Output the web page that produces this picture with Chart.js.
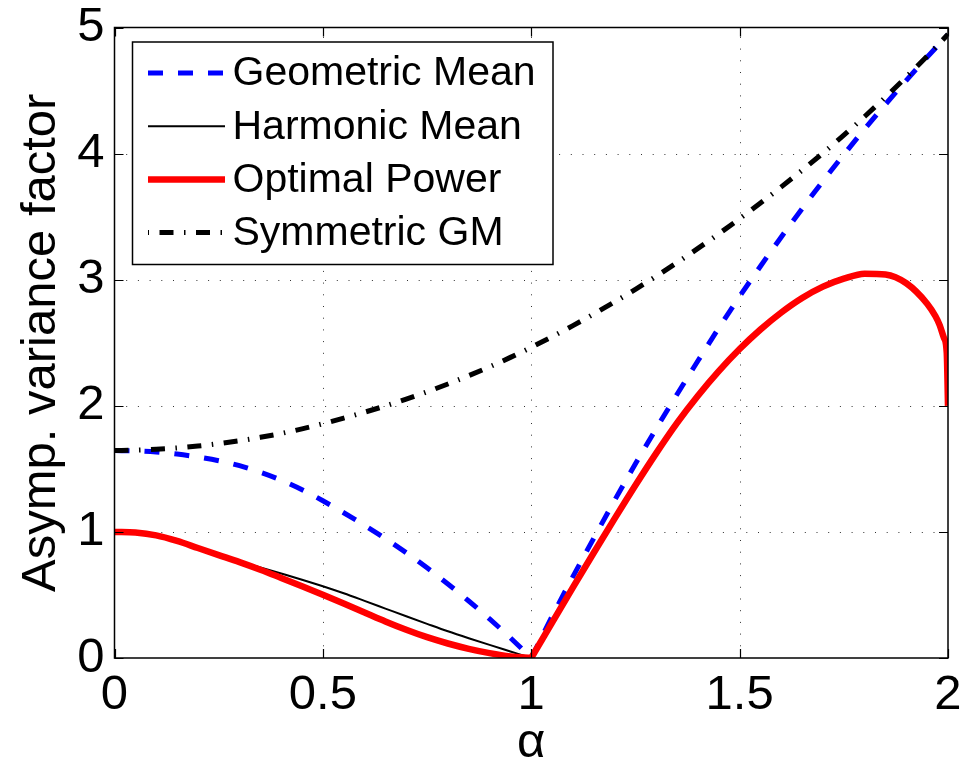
<!DOCTYPE html>
<html>
<head>
<meta charset="utf-8">
<script src="https://cdn.jsdelivr.net/npm/chart.js@4/dist/chart.umd.min.js"></script>
<style>
  html, body { margin: 0; padding: 0; background: #fff; }
  #wrap { width: 964px; height: 763px; }
</style>
</head>
<body>
<div id="wrap"><canvas id="chart" width="964" height="763"></canvas></div>
<script>
// α grid shared by the smooth curves
const alpha = [0, 0.05, 0.1, 0.15, 0.2, 0.25, 0.3, 0.35, 0.4, 0.45, 0.5,
               0.55, 0.6, 0.65, 0.7, 0.75, 0.8, 0.85, 0.9, 0.95, 1.0,
               1.05, 1.1, 1.15, 1.2, 1.25, 1.3, 1.35, 1.4, 1.45, 1.5,
               1.55, 1.6, 1.65, 1.7, 1.75, 1.8, 1.85, 1.9, 1.95, 2.0];

const geometricMean = [1.645, 1.642, 1.633, 1.617, 1.594, 1.564, 1.525, 1.473, 1.410, 1.335, 1.247,
                       1.152, 1.052, 0.947, 0.835, 0.715, 0.587, 0.452, 0.310, 0.160, 0.000,
                       0.330, 0.645, 0.950, 1.250, 1.540, 1.820, 2.092, 2.357, 2.617, 2.867,
                       3.107, 3.339, 3.564, 3.782, 3.992, 4.195, 4.391, 4.581, 4.765, 4.943];

// harmonic mean is only shown on α ∈ [0, 1]
const harmonicMean = [1.000, 0.994, 0.968, 0.924, 0.872, 0.818, 0.765, 0.718, 0.670, 0.621, 0.569,
                      0.513, 0.453, 0.392, 0.331, 0.271, 0.212, 0.157, 0.104, 0.052, 0.000];

// optimal power uses a finer grid close to α = 2
const alphaOpt = [0, 0.05, 0.1, 0.15, 0.2, 0.25, 0.3, 0.35, 0.4, 0.45, 0.5,
                  0.55, 0.6, 0.65, 0.7, 0.75, 0.8, 0.85, 0.9, 0.95, 1.0,
                  1.05, 1.1, 1.15, 1.2, 1.25, 1.3, 1.35, 1.4, 1.45, 1.5,
                  1.55, 1.6, 1.65, 1.7, 1.75, 1.8, 1.85, 1.9, 1.95,
                  1.97, 1.98, 1.99, 1.997, 2.0];
const optimalPower = [1.000, 0.995, 0.972, 0.928, 0.872, 0.816, 0.760, 0.700, 0.635, 0.569, 0.501,
                      0.432, 0.361, 0.290, 0.224, 0.165, 0.115, 0.073, 0.039, 0.013, 0.000,
                      0.280, 0.560, 0.835, 1.105, 1.370, 1.625, 1.865, 2.080, 2.275, 2.450,
                      2.605, 2.740, 2.855, 2.945, 3.008, 3.048, 3.042, 2.972, 2.810,
                      2.710, 2.640, 2.540, 2.420, 2.000];

const symmetricGM = [1.645, 1.648, 1.655, 1.666, 1.681, 1.700, 1.723, 1.750, 1.781, 1.817, 1.858,
                     1.902, 1.949, 1.999, 2.053, 2.111, 2.173, 2.239, 2.309, 2.384, 2.464,
                     2.548, 2.636, 2.728, 2.824, 2.924, 3.028, 3.136, 3.248, 3.364, 3.484,
                     3.608, 3.736, 3.868, 4.004, 4.146, 4.294, 4.448, 4.608, 4.774, 4.946];

const xTicks = [0, 0.5, 1, 1.5, 2];
const yTicks = [0, 1, 2, 3, 4, 5];

const FONT = "'Liberation Sans', Arial, Helvetica, sans-serif";

const pts = (xs, ys) => ys.map((v, i) => ({ x: xs[i], y: v }));
// curves with a kink at α = 1 are drawn as two branches
const leftOf = (xs, ys) => pts(xs, ys).filter(p => p.x <= 1);
const rightOf = (xs, ys) => pts(xs, ys).filter(p => p.x >= 1);

const styleGM  = { borderColor: '#0000ff', borderWidth: 5, borderDash: [15, 15], borderCapStyle: 'butt' };
const styleHM  = { borderColor: '#000000', borderWidth: 2, borderDash: [] };
const styleOP  = { borderColor: '#ff0000', borderWidth: 6.5, borderDash: [], borderJoinStyle: 'round' };
const styleSGM = { borderColor: '#000000', borderWidth: 5, borderDash: [14, 10.5, 1.5, 10.5], borderCapStyle: 'butt' };

const datasets = [
  { label: 'Geometric Mean', data: leftOf(alpha, geometricMean), order: 4, ...styleGM },
  { label: 'Geometric Mean', data: rightOf(alpha, geometricMean), order: 4, hideInKey: true, ...styleGM },
  { label: 'Harmonic Mean', data: pts(alpha, harmonicMean), order: 3, ...styleHM },
  { label: 'Optimal Power', data: leftOf(alphaOpt, optimalPower), order: 2, ...styleOP },
  { label: 'Optimal Power', data: rightOf(alphaOpt, optimalPower), order: 2, hideInKey: true, ...styleOP },
  { label: 'Symmetric GM', data: pts(alpha, symmetricGM), order: 1, ...styleSGM }
];

// dotted grid, boxed axes with inward ticks, and the in-plot key
const axesBox = {
  id: 'axesBox',
  beforeDatasetsDraw(chart) {
    const { ctx, chartArea: a, scales: { x, y } } = chart;
    ctx.save();
    ctx.strokeStyle = '#333';
    ctx.lineWidth = 1;
    ctx.setLineDash([1, 10.7]);
    xTicks.forEach(v => {
      if (v <= x.min || v >= x.max) return;
      const px = Math.round(x.getPixelForValue(v)) + 0.5;
      ctx.beginPath(); ctx.moveTo(px, a.bottom); ctx.lineTo(px, a.top); ctx.stroke();
    });
    yTicks.forEach(v => {
      if (v <= y.min || v >= y.max) return;
      const py = Math.round(y.getPixelForValue(v)) + 0.5;
      ctx.beginPath(); ctx.moveTo(a.left, py); ctx.lineTo(a.right, py); ctx.stroke();
    });
    ctx.restore();
  },
  afterDatasetsDraw(chart) {
    const { ctx, chartArea: a, scales: { x, y } } = chart;
    const tl = 9;
    ctx.save();
    ctx.strokeStyle = '#000';
    ctx.lineWidth = 1.5;
    ctx.setLineDash([]);
    ctx.strokeRect(a.left, a.top, a.right - a.left, a.bottom - a.top);
    ctx.lineWidth = 1.2;
    xTicks.forEach(v => {
      const px = Math.round(x.getPixelForValue(v)) + 0.5;
      ctx.beginPath();
      ctx.moveTo(px, a.bottom); ctx.lineTo(px, a.bottom - tl);
      ctx.moveTo(px, a.top); ctx.lineTo(px, a.top + tl);
      ctx.stroke();
    });
    yTicks.forEach(v => {
      const py = Math.round(y.getPixelForValue(v)) + 0.5;
      ctx.beginPath();
      ctx.moveTo(a.left, py); ctx.lineTo(a.left + tl, py);
      ctx.moveTo(a.right, py); ctx.lineTo(a.right - tl, py);
      ctx.stroke();
    });
    ctx.restore();
  },
  afterDraw(chart) {
    const { ctx, chartArea: a } = chart;
    const entries = chart.data.datasets.filter(d => !d.hideInKey);
    const bx = a.left + 18, by = a.top + 14.5, bw = 420.5, bh = 222.5;
    ctx.save();
    ctx.fillStyle = '#fff';
    ctx.fillRect(bx, by, bw, bh);
    ctx.strokeStyle = '#000';
    ctx.lineWidth = 1.5;
    ctx.setLineDash([]);
    ctx.strokeRect(bx, by, bw, bh);
    ctx.font = `41px ${FONT}`;
    ctx.textBaseline = 'middle';
    ctx.textAlign = 'left';
    entries.forEach((d, i) => {
      const ry = by + 31 + i * 53.2;
      ctx.save();
      ctx.strokeStyle = d.borderColor;
      ctx.lineWidth = d.borderWidth;
      ctx.lineCap = 'butt';
      ctx.setLineDash(d.borderDash || []);
      if (d.borderDash && d.borderDash.length === 4) ctx.lineDashOffset = 25;
      ctx.beginPath();
      ctx.moveTo(bx + 15.5, ry);
      ctx.lineTo(bx + 92.5, ry);
      ctx.stroke();
      ctx.restore();
      ctx.fillStyle = '#000';
      ctx.fillText(d.label, bx + 100, ry + 1);
    });
    ctx.restore();
  }
};

new Chart(document.getElementById('chart'), {
  type: 'line',
  data: { datasets },
  plugins: [axesBox],
  options: {
    responsive: false,
    animation: false,
    devicePixelRatio: 1,
    layout: { padding: { top: 27.5, right: 16, left: 0, bottom: 0 } },
    elements: {
      point: { radius: 0, hoverRadius: 0 },
      line: { cubicInterpolationMode: 'monotone', fill: false }
    },
    plugins: {
      legend: { display: false },
      tooltip: { enabled: false }
    },
    scales: {
      x: {
        type: 'linear', min: 0, max: 2,
        grid: { display: false, drawTicks: false },
        border: { display: false },
        afterBuildTicks: s => { s.ticks = xTicks.map(v => ({ value: v })); },
        ticks: { color: '#000', font: { family: FONT, size: 49, lineHeight: 1 }, padding: 13, maxRotation: 0, autoSkip: false,
                 callback: v => String(v) },
        title: { display: true, text: 'α', color: '#000', font: { family: FONT, size: 49, lineHeight: 0.8 }, padding: 0 },
        afterFit: s => { s.height = 105; s.paddingLeft = 0; s.paddingRight = 0; }
      },
      y: {
        type: 'linear', min: 0, max: 5,
        grid: { display: false, drawTicks: false },
        border: { display: false },
        afterBuildTicks: s => { s.ticks = yTicks.map(v => ({ value: v })); },
        ticks: { color: '#000', font: { family: FONT, size: 49, lineHeight: 1 }, padding: 10, autoSkip: false,
                 callback: v => String(v) },
        title: { display: true, text: 'Asymp. variance factor', color: '#000', font: { family: FONT, size: 49, lineHeight: 1 }, padding: { top: 16.5, bottom: 0 } },
        afterFit: s => { s.width = 114.5; s.paddingTop = 0; s.paddingBottom = 0; }
      }
    }
  }
});
</script>
</body>
</html>
